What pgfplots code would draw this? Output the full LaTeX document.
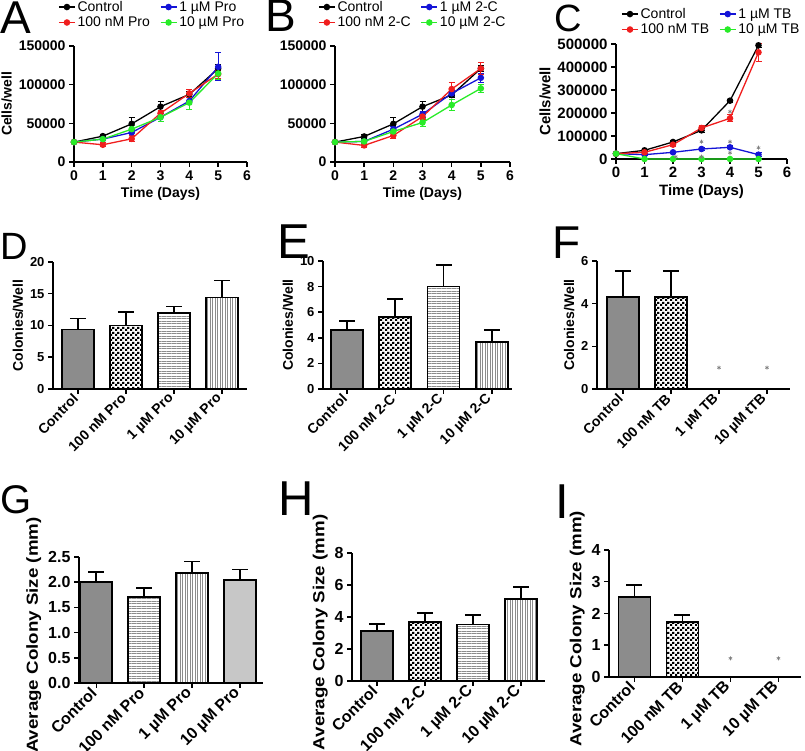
\documentclass[border=0pt]{standalone}
\usepackage{fontspec}
\setmainfont{Liberation Sans}
\usepackage{graphicx}
\usepackage{pgfplots}
\pgfplotsset{compat=1.18}
\usetikzlibrary{patterns,patterns.meta}

\definecolor{mred}{RGB}{240,30,30}
\definecolor{mblue}{RGB}{20,20,215}
\definecolor{mgreen}{RGB}{40,235,40}

\newcommand{\fs}[1]{\fontsize{#1}{#1}\selectfont}

\pgfdeclarepatternformonly{checker}{\pgfpointorigin}{\pgfqpoint{5pt}{5pt}}{\pgfqpoint{5pt}{5pt}}{%
  \pgfpathrectangle{\pgfpointorigin}{\pgfqpoint{2.5pt}{2.5pt}}%
  \pgfpathrectangle{\pgfqpoint{2.5pt}{2.5pt}}{\pgfqpoint{2.5pt}{2.5pt}}%
  \pgfusepath{fill}}

\pgfplotsset{
  prism/.style={scale only axis, axis x line*=bottom, axis y line*=left,
    axis line style={line width=1.5pt, black}, tick style={line width=1.5pt, black},
    tick align=outside, major tick length=5pt, scaled y ticks=false, scaled x ticks=false,
    /pgf/number format/assume math mode=true, clip=false},
  linechart/.style={prism, xmin=0, xmax=6, ymin=0, xtick={0,...,6},
    tick label style={font=\bfseries\fs{14}}, label style={font=\bfseries\fs{14}},
    legend columns=2, legend cell align=left,
    legend style={draw=none, fill=none, font=\fs{14}, anchor=north west, inner sep=0pt,
      /tikz/every even column/.append style={column sep=8pt}},
    legend image code/.code={\draw[mark repeat=2,mark phase=2] plot coordinates {(0pt,0pt) (8pt,0pt) (16pt,0pt)};}},
  ser/.style={color=#1, mark=*, mark size=2.6pt, line width=1.3pt,
    error bars/.cd, y dir=both, y explicit, error bar style={line width=0.9pt},
    error mark options={rotate=90, mark size=3pt, line width=0.9pt}},
  barchart/.style={prism, ymin=0, xtick={0,1,2,3}, xticklabel style={rotate=45, anchor=east}},
  midrow/.style={tick label style={font=\bfseries\fs{13}}, xticklabel style={font=\bfseries\fs{14}},
    label style={font=\bfseries\fs{14}}},
  botrow/.style={tick label style={font=\bfseries\fs{16}}, xticklabel style={font=\bfseries\fs{16}},
    label style={font=\bfseries\fs{16}}, ylabel style={at={(ticklabel cs:0.38)}}},
  pbar/.style={ybar, bar width=32pt, bar shift=0pt, draw=black, line width=1.8pt,
    error bars/.cd, y dir=plus, y explicit, error bar style={line width=1.8pt, black},
    error mark options={rotate=90, mark size=8pt, line width=1.8pt, black}},
  star/.style={only marks, mark=asterisk, mark size=2pt, black!50, line width=0.6pt},
  dark/.style={fill=black!45},
  check/.style={pattern=checker, pattern color=black},
  hl/.style={pattern={Lines[angle=0,distance=2.5pt,line width=0.8pt]}, pattern color=black!45},
  vl/.style={pattern={Lines[angle=90,distance=2.5pt,line width=0.8pt]}, pattern color=black!45},
  light/.style={fill=black!22},
}
\newcommand{\acs}{\scalebox{1.17}[1]{Average Colony Size (mm)}}

\begin{document}
\begin{tikzpicture}
\useasboundingbox (0,0) rectangle (805pt,751pt);

% panel letters
\node[anchor=north west, inner sep=0pt, font=\fs{46}] at (0pt,749pt) {A};
\node[anchor=north west, inner sep=0pt, font=\fs{46}] at (265pt,751pt) {B};
\node[anchor=north west, inner sep=0pt, font=\fs{38}] at (554pt,746pt) {C};
\node[anchor=north west, inner sep=0pt, font=\fs{38}] at (0pt,518pt) {D};
\node[anchor=north west, inner sep=0pt, font=\fs{49}] at (277pt,526pt) {E};
\node[anchor=north west, inner sep=0pt, font=\fs{46}] at (552pt,524pt) {F};
\node[anchor=north west, inner sep=0pt, font=\fs{40}] at (0pt,266pt) {G};
\node[anchor=north west, inner sep=0pt, font=\fs{49}] at (278pt,269pt) {H};
\node[anchor=north west, inner sep=0pt, font=\fs{49}] at (555pt,266pt) {I};

% ---------------- A ----------------
\begin{axis}[linechart, at={(74pt,589pt)}, anchor=south west, width=173pt, height=116pt,
  ymax=150000, ytick={0,50000,100000,150000}, yticklabels={0,50000,100000,150000},
  xlabel={Time (Days)}, ylabel={Cells/well}, legend style={at={(-0.092,1.405)}}]
\addplot[ser=black] coordinates {(0,25714)+-(0,1000) (1,33428)+-(0,2500) (2,49286)+-(0,8000) (3,71571)+-(0,7000) (4,87428)+-(0,4000) (5,120857)+-(0,5000)};
\addlegendentry{Control}
\addplot[ser=mblue] coordinates {(0,25714)+-(0,0) (1,29571)+-(0,2000) (2,38143)+-(0,4000) (3,57857)+-(0,5000) (4,78857)+-(0,5000) (5,123000)+-(0,18000)};
\addlegendentry{1 µM Pro}
\addplot[ser=mred] coordinates {(0,25714)+-(0,0) (1,22286)+-(0,2500) (2,30000)+-(0,4000) (3,63000)+-(0,4000) (4,88714)+-(0,5000) (5,113571)+-(0,5000)};
\addlegendentry{100 nM Pro}
\addplot[ser=mgreen] coordinates {(0,25714)+-(0,0) (1,29571)+-(0,2000) (2,42429)+-(0,5000) (3,57857)+-(0,6000) (4,76714)+-(0,9000) (5,114428)+-(0,8000)};
\addlegendentry{10 µM Pro}
\end{axis}

% ---------------- B ----------------
\begin{axis}[linechart, at={(335pt,589pt)}, anchor=south west, width=175pt, height=116pt,
  ymax=150000, ytick={0,50000,100000,150000}, yticklabels={0,50000,100000,150000},
  xlabel={Time (Days)}, legend style={at={(-0.097,1.405)}}]
\addplot[ser=black] coordinates {(0,25714)+-(0,1000) (1,33000)+-(0,3000) (2,49286)+-(0,8000) (3,71571)+-(0,7000) (4,86571)+-(0,3000) (5,120857)+-(0,4000)};
\addlegendentry{Control}
\addplot[ser=mblue] coordinates {(0,25714)+-(0,0) (1,26571)+-(0,2000) (2,42429)+-(0,3000) (3,61714)+-(0,4000) (4,88714)+-(0,4000) (5,108857)+-(0,6000)};
\addlegendentry{1 µM 2-C}
\addplot[ser=mred] coordinates {(0,25714)+-(0,0) (1,21429)+-(0,2000) (2,34286)+-(0,3500) (3,58714)+-(0,4000) (4,94286)+-(0,8000) (5,120857)+-(0,8000)};
\addlegendentry{100 nM 2-C}
\addplot[ser=mgreen] coordinates {(0,25714)+-(0,0) (1,26571)+-(0,2000) (2,39429)+-(0,3000) (3,51000)+-(0,5000) (4,73714)+-(0,7000) (5,95143)+-(0,5000)};
\addlegendentry{10 µM 2-C}
\end{axis}

% ---------------- C ----------------
\begin{axis}[linechart, at={(616pt,592pt)}, anchor=south west, width=171pt, height=115pt,
  ymax=500000, ytick={0,100000,200000,300000,400000,500000}, yticklabels={0,100000,200000,300000,400000,500000},
  tick label style={font=\bfseries\fs{15}}, label style={font=\bfseries\fs{15}},
  xlabel={Time (Days)}, ylabel={Cells/well}, legend style={at={(0.03,1.33)}}]
\addplot[ser=black] coordinates {(0,23188)+-(0,1000) (1,37681)+-(0,3000) (2,73913)+-(0,5000) (3,124638)+-(0,8000) (4,253623)+-(0,6000) (5,494203)+-(0,8000)};
\addlegendentry{Control}
\addplot[ser=mblue] coordinates {(0,23188)+-(0,0) (1,18841)+-(0,3000) (2,28986)+-(0,3000) (3,43478)+-(0,8000) (4,50725)+-(0,6000) (5,18841)+-(0,8000)};
\addlegendentry{1 µM TB}
\addplot[ser=mred] coordinates {(0,23188)+-(0,0) (1,28986)+-(0,3000) (2,62319)+-(0,6000) (3,134783)+-(0,12000) (4,176812)+-(0,15000) (5,463768)+-(0,40000)};
\addlegendentry{100 nM TB}
\addplot[ser=mgreen] coordinates {(0,23188)+-(0,0) (1,0)+-(0,0) (2,0)+-(0,0) (3,0)+-(0,0) (4,0)+-(0,0) (5,0)+-(0,0)};
\addlegendentry{10 µM TB}
\addplot[star, forget plot] coordinates {(2.1,10000) (3,75000) (3,10000) (4,206000) (4,75000) (4,27000) (5,49000)};
\end{axis}

% ---------------- D ----------------
\begin{axis}[barchart, midrow, at={(53pt,362pt)}, anchor=south west, width=194pt, height=127pt,
  xmin=-0.52, xmax=3.52, ymax=20, ytick={0,5,10,15,20},
  xticklabels={Control,100 nM Pro,1 µM Pro,10 µM Pro}, ylabel={Colonies/Well}]
\addplot[dark, pbar] coordinates {(0,9.37)+-(0,1.73)};
\addplot[check, pbar] coordinates {(1,10.0)+-(0,2.15)};
\addplot[hl, pbar] coordinates {(2,12.0)+-(0,1.0)};
\addplot[vl, pbar] coordinates {(3,14.4)+-(0,2.67)};
\end{axis}

% ---------------- E ----------------
\begin{axis}[barchart, midrow, at={(323pt,362pt)}, anchor=south west, width=189pt, height=128pt,
  xmin=-0.5, xmax=3.42, ymax=10, ytick={0,2,4,6,8,10},
  xticklabels={Control,100 nM 2-C,1 µM 2-C,10 µM  2-C}, ylabel={Colonies/Well}]
\addplot[dark, pbar] coordinates {(0,4.64)+-(0,0.67)};
\addplot[check, pbar] coordinates {(1,5.65)+-(0,1.35)};
\addplot[hl, pbar] coordinates {(2,8.0)+-(0,1.71)};
\addplot[vl, pbar] coordinates {(3,3.65)+-(0,0.93)};
\end{axis}

% ---------------- F ----------------
\begin{axis}[barchart, midrow, at={(597pt,362pt)}, anchor=south west, width=193pt, height=128pt,
  xmin=-0.54, xmax=3.48, ymax=6, ytick={0,2,4,6},
  xticklabels={Control,100 nM TB,1 µM TB,10 µM tTB}, ylabel={Colonies/Well}]
\addplot[dark, pbar] coordinates {(0,4.32)+-(0,1.21)};
\addplot[check, pbar] coordinates {(1,4.32)+-(0,1.21)};
\addplot[star] coordinates {(2,1.0) (3,1.0)};
\end{axis}

% ---------------- G ----------------
\begin{axis}[barchart, botrow, at={(79pt,68pt)}, anchor=south west, width=184pt, height=126pt,
  xmin=-0.36, xmax=3.48, ymax=2.5, ytick={0,0.5,1,1.5,2,2.5}, yticklabels={0.0,0.5,1.0,1.5,2.0,2.5},
  xticklabels={Control,100 nM Pro,1 µM Pro,10 µM Pro}, ylabel={\acs}]
\addplot[dark, pbar] coordinates {(0,2.0)+-(0,0.21)};
\addplot[hl, pbar] coordinates {(1,1.70)+-(0,0.19)};
\addplot[vl, pbar] coordinates {(2,2.18)+-(0,0.23)};
\addplot[light, pbar] coordinates {(3,2.05)+-(0,0.20)};
\end{axis}

% ---------------- H ----------------
\begin{axis}[barchart, botrow, at={(352pt,70pt)}, anchor=south west, width=193pt, height=128pt,
  xmin=-0.52, xmax=3.5, ymax=8, ytick={0,2,4,6,8},
  xticklabels={Control,100 nM 2-C,1 µM 2-C,10 µM 2-C}, ylabel={\acs}]
\addplot[dark, pbar] coordinates {(0,3.13)+-(0,0.42)};
\addplot[check, pbar] coordinates {(1,3.68)+-(0,0.56)};
\addplot[hl, pbar] coordinates {(2,3.53)+-(0,0.61)};
\addplot[vl, pbar] coordinates {(3,5.12)+-(0,0.77)};
\end{axis}

% ---------------- I ----------------
\begin{axis}[barchart, botrow, at={(609pt,74pt)}, anchor=south west, width=192pt, height=127pt,
  xmin=-0.53, xmax=3.47, ymax=4, ytick={0,1,2,3,4},
  xticklabels={Control,100 nM TB,1 µM TB,10 µM TB}, ylabel={\acs}]
\addplot[dark, pbar] coordinates {(0,2.53)+-(0,0.38)};
\addplot[check, pbar] coordinates {(1,1.72)+-(0,0.24)};
\addplot[star] coordinates {(2,0.59) (3,0.59)};
\end{axis}
\end{tikzpicture}
\end{document}
